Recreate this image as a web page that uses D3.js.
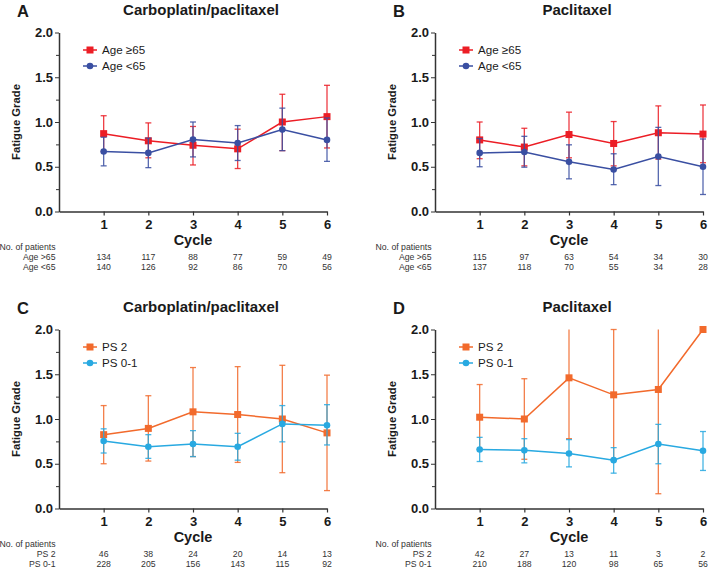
<!DOCTYPE html>
<html>
<head>
<meta charset="utf-8">
<script src="https://cdn.jsdelivr.net/npm/d3@7"></script>
<style>
  html, body { margin: 0; padding: 0; background: #fff; }
  svg { display: block; font-family: "Liberation Sans", Arial, Helvetica, sans-serif; }
</style>
</head>
<body>
<svg id="chart" width="709" height="570"></svg>
<script>
// ---------- data ----------
const cycles = [1, 2, 3, 4, 5, 6];
const yTicks = [0, 0.5, 1.0, 1.5, 2.0];
const yMinorTicks = [0.25, 0.75, 1.25, 1.75];

// Panel A – Carboplatin/paclitaxel by age
const aOldMean  = [0.87, 0.79, 0.74, 0.70, 1.00, 1.06];
const aOldLow   = [0.67, 0.60, 0.52, 0.48, 0.68, 0.71];
const aOldHigh  = [1.07, 0.99, 0.95, 0.92, 1.31, 1.41];
const aYoungMean = [0.67, 0.655, 0.805, 0.765, 0.915, 0.80];
const aYoungLow  = [0.51, 0.49, 0.61, 0.57, 0.68, 0.56];
const aYoungHigh = [0.83, 0.82, 1.00, 0.96, 1.155, 1.045];
const aOldN   = [134, 117, 88, 77, 59, 49];
const aYoungN = [140, 126, 92, 86, 70, 56];

// Panel B – Paclitaxel by age
const bOldMean  = [0.80, 0.72, 0.86, 0.76, 0.88, 0.865];
const bOldLow   = [0.59, 0.51, 0.60, 0.51, 0.585, 0.545];
const bOldHigh  = [1.00, 0.93, 1.11, 1.005, 1.18, 1.19];
const bYoungMean = [0.655, 0.665, 0.555, 0.47, 0.615, 0.50];
const bYoungLow  = [0.50, 0.495, 0.365, 0.30, 0.29, 0.19];
const bYoungHigh = [0.815, 0.84, 0.745, 0.645, 0.94, 0.81];
const bOldN   = [115, 97, 63, 54, 34, 30];
const bYoungN = [137, 118, 70, 55, 34, 28];

// Panel C – Carboplatin/paclitaxel by PS
const cPs2Mean = [0.825, 0.895, 1.08, 1.05, 1.00, 0.845];
const cPs2Low  = [0.50, 0.53, 0.58, 0.515, 0.40, 0.20];
const cPs2High = [1.15, 1.26, 1.575, 1.585, 1.60, 1.49];
const cPs01Mean = [0.755, 0.69, 0.72, 0.69, 0.945, 0.93];
const cPs01Low  = [0.62, 0.56, 0.58, 0.54, 0.745, 0.71];
const cPs01High = [0.89, 0.825, 0.87, 0.84, 1.15, 1.16];
const cPs2N  = [46, 38, 24, 20, 14, 13];
const cPs01N = [228, 205, 156, 143, 115, 92];

// Panel D – Paclitaxel by PS
const dPs2Mean = [1.02, 1.00, 1.46, 1.27, 1.33, 2.00];
const dPs2Low  = [0.66, 0.55, 0.78, 0.55, 0.165, 2.00];
const dPs2High = [1.385, 1.45, 2.14, 2.00, 2.50, 2.00];
const dPs01Mean = [0.66, 0.65, 0.615, 0.54, 0.72, 0.645];
const dPs01Low  = [0.525, 0.51, 0.465, 0.395, 0.50, 0.425];
const dPs01High = [0.795, 0.78, 0.77, 0.68, 0.94, 0.86];
const dPs2N  = [42, 27, 13, 11, 3, 2];
const dPs01N = [210, 188, 120, 98, 65, 56];

const COL_RED = "#ec1d25", COL_BLUE = "#3a4fa2", COL_ORANGE = "#f26a2c", COL_LBLUE = "#28a9e1";

const panels = [
  { letter: "A", title: "Carboplatin/paclitaxel", x0: 59, x1: 327, yTop: 32.5, yBot: 211.5,
    series: [
      { name: "Age \u226565", row: "Age >65", color: COL_RED, shape: "square", mean: aOldMean, low: aOldLow, high: aOldHigh, n: aOldN },
      { name: "Age <65", row: "Age <65", color: COL_BLUE, shape: "circle", mean: aYoungMean, low: aYoungLow, high: aYoungHigh, n: aYoungN }
    ]},
  { letter: "B", title: "Paclitaxel", x0: 435, x1: 703, yTop: 32.5, yBot: 211.5,
    series: [
      { name: "Age \u226565", row: "Age >65", color: COL_RED, shape: "square", mean: bOldMean, low: bOldLow, high: bOldHigh, n: bOldN },
      { name: "Age <65", row: "Age <65", color: COL_BLUE, shape: "circle", mean: bYoungMean, low: bYoungLow, high: bYoungHigh, n: bYoungN }
    ]},
  { letter: "C", title: "Carboplatin/paclitaxel", x0: 59, x1: 327, yTop: 329.5, yBot: 508.5,
    series: [
      { name: "PS 2", row: "PS 2", color: COL_ORANGE, shape: "square", mean: cPs2Mean, low: cPs2Low, high: cPs2High, n: cPs2N },
      { name: "PS 0-1", row: "PS 0-1", color: COL_LBLUE, shape: "circle", mean: cPs01Mean, low: cPs01Low, high: cPs01High, n: cPs01N }
    ]},
  { letter: "D", title: "Paclitaxel", x0: 435, x1: 703, yTop: 329.5, yBot: 508.5,
    series: [
      { name: "PS 2", row: "PS 2", color: COL_ORANGE, shape: "square", mean: dPs2Mean, low: dPs2Low, high: dPs2High, n: dPs2N },
      { name: "PS 0-1", row: "PS 0-1", color: COL_LBLUE, shape: "circle", mean: dPs01Mean, low: dPs01Low, high: dPs01High, n: dPs01N }
    ]}
];

const svg = d3.select("#chart");
const AXIS_COL = "#333";
const TEXT_COL = "#1a1a1a";

function drawMarker(g, shape, x, y, color) {
  if (shape === "square") {
    g.append("rect").attr("x", x - 3.5).attr("y", y - 3.5).attr("width", 7).attr("height", 7).attr("fill", color);
  } else {
    g.append("circle").attr("cx", x).attr("cy", y).attr("r", 3.3).attr("fill", color);
  }
}

panels.forEach(p => {
  const g = svg.append("g");
  const x = d3.scaleLinear().domain([0, 6]).range([p.x0, p.x1]);
  const y = d3.scaleLinear().domain([0, 2]).range([p.yBot, p.yTop]);
  const midX = (p.x0 + p.x1) / 2;

  // panel letter and title
  g.append("text").attr("x", p.x0 - 42).attr("y", p.yTop - 15.5)
    .attr("font-size", 16.5).attr("font-weight", "bold").attr("fill", TEXT_COL).text(p.letter);
  g.append("text").attr("x", midX + 8).attr("y", p.yTop - 18).attr("text-anchor", "middle")
    .attr("font-size", 15).attr("font-weight", "bold").attr("fill", TEXT_COL).text(p.title);

  // y axis
  const yAxis = d3.axisLeft(y).tickValues(yTicks).tickFormat(d3.format(".1f")).tickSizeInner(4).tickSizeOuter(0).tickPadding(2);
  const ya = g.append("g").attr("transform", `translate(${p.x0},0)`).call(yAxis);
  ya.select(".domain").attr("stroke", AXIS_COL).attr("stroke-width", 1.5);
  ya.selectAll(".tick line").attr("stroke", AXIS_COL).attr("stroke-width", 1);
  ya.selectAll(".tick text").attr("font-size", 13).attr("font-weight", "bold").attr("fill", TEXT_COL)
    .attr("font-family", "Liberation Sans, Arial, sans-serif");
  const yMinor = d3.axisLeft(y).tickValues(yMinorTicks).tickFormat("").tickSizeInner(3).tickSizeOuter(0);
  const ym = g.append("g").attr("transform", `translate(${p.x0},0)`).call(yMinor);
  ym.select(".domain").remove();
  ym.selectAll(".tick line").attr("stroke", AXIS_COL).attr("stroke-width", 1);

  // x axis
  const xAxis = d3.axisBottom(x).tickValues(cycles).tickFormat(d3.format("d")).tickSizeInner(4).tickSizeOuter(0).tickPadding(4);
  const xa = g.append("g").attr("transform", `translate(0,${p.yBot})`).call(xAxis);
  xa.select(".domain").attr("stroke", AXIS_COL).attr("stroke-width", 1.5);
  xa.selectAll(".tick line").attr("stroke", AXIS_COL).attr("stroke-width", 1.2);
  xa.selectAll(".tick text").attr("font-size", 13).attr("font-weight", "bold").attr("fill", TEXT_COL)
    .attr("font-family", "Liberation Sans, Arial, sans-serif");

  // axis titles
  g.append("text").attr("x", midX).attr("y", p.yBot + 33).attr("text-anchor", "middle")
    .attr("font-size", 14.5).attr("font-weight", "bold").attr("fill", TEXT_COL).text("Cycle");
  g.append("text").attr("transform", `translate(${p.x0 - 39},${(p.yTop + p.yBot) / 2}) rotate(-90)`)
    .attr("text-anchor", "middle").attr("font-size", 11.3).attr("font-weight", "bold").attr("fill", TEXT_COL)
    .text("Fatigue Grade");

  // series
  p.series.forEach(s => {
    const sg = g.append("g");
    // error bars
    cycles.forEach((c, i) => {
      if (s.low[i] === s.high[i]) return;
      const cx = x(c);
      const hiClipped = s.high[i] > 2;
      const yHi = y(Math.min(s.high[i], 2));
      const yLo = y(Math.max(s.low[i], 0));
      sg.append("line").attr("x1", cx).attr("x2", cx).attr("y1", yHi).attr("y2", yLo)
        .attr("stroke", s.color).attr("stroke-width", 1.3).attr("opacity", 0.85);
      if (!hiClipped) {
        sg.append("line").attr("x1", cx - 3).attr("x2", cx + 3).attr("y1", yHi).attr("y2", yHi)
          .attr("stroke", s.color).attr("stroke-width", 1.3).attr("opacity", 0.85);
      }
      sg.append("line").attr("x1", cx - 3).attr("x2", cx + 3).attr("y1", yLo).attr("y2", yLo)
        .attr("stroke", s.color).attr("stroke-width", 1.3).attr("opacity", 0.85);
    });
    // line
    const line = d3.line().x((d, i) => x(cycles[i])).y(d => y(d));
    sg.append("path").datum(s.mean).attr("d", line).attr("fill", "none")
      .attr("stroke", s.color).attr("stroke-width", 1.5);
    // markers
    s.mean.forEach((m, i) => drawMarker(sg, s.shape, x(cycles[i]), y(m), s.color));
  });

  // legend
  const lx = p.x0 + 24;
  p.series.forEach((s, k) => {
    const ly = p.yTop + 17.5 + k * 16;
    g.append("line").attr("x1", lx).attr("x2", lx + 14).attr("y1", ly).attr("y2", ly)
      .attr("stroke", s.color).attr("stroke-width", 1.5);
    drawMarker(g, s.shape, lx + 7, ly, s.color);
    g.append("text").attr("x", lx + 19).attr("y", ly + 4.2).attr("font-size", 11.6)
      .attr("fill", TEXT_COL).text(s.name);
  });

  // table of patients
  const tx = p.x0 - 3.5;
  const tableFont = 8.7;
  g.append("text").attr("x", tx).attr("y", p.yBot + 38.3).attr("text-anchor", "end")
    .attr("font-size", tableFont).attr("fill", "#333").text("No. of patients");
  p.series.forEach((s, k) => {
    const ry = p.yBot + 48.6 + k * 10.2;
    g.append("text").attr("x", tx).attr("y", ry).attr("text-anchor", "end")
      .attr("font-size", tableFont).attr("fill", "#333").text(s.row);
    g.selectAll(null).data(s.n).enter().append("text")
      .attr("x", (d, i) => x(cycles[i])).attr("y", ry).attr("text-anchor", "middle")
      .attr("font-size", tableFont).attr("fill", "#333").text(d => d);
  });
});
</script>
</body>
</html>
